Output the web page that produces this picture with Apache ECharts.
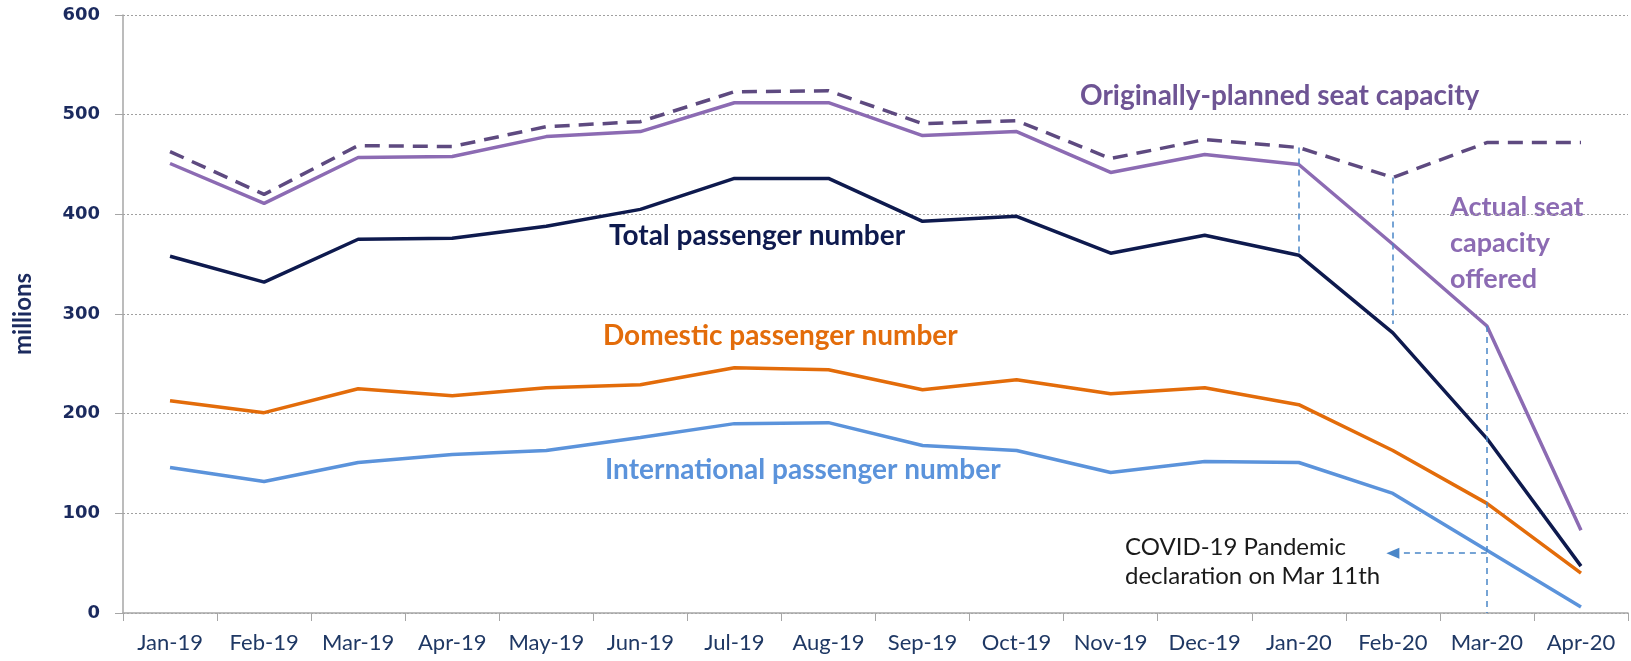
<!DOCTYPE html>
<html>
<head>
<meta charset="utf-8">
<script src="https://cdn.jsdelivr.net/npm/echarts@6/dist/echarts.min.js"></script>
<style>
  html, body { margin: 0; padding: 0; background: #fff; }
  #main { width: 1631px; height: 661px; }
</style>
</head>
<body>
<div id="main"></div>
<script>
const months = ['Jan-19', 'Feb-19', 'Mar-19', 'Apr-19', 'May-19', 'Jun-19', 'Jul-19', 'Aug-19',
  'Sep-19', 'Oct-19', 'Nov-19', 'Dec-19', 'Jan-20', 'Feb-20', 'Mar-20', 'Apr-20'];

// millions
const plannedSeats = [463, 420, 469, 468, 488, 493, 523, 524, 491, 494, 456, 475, 467, 437, 472, 472];
const actualSeats = [451, 411, 457, 458, 478, 483, 512, 512, 479, 483, 442, 460, 450, 370, 288, 83];
const totalPax = [358, 332, 375, 376, 388, 405, 436, 436, 393, 398, 361, 379, 359, 281, 175, 47];
const domesticPax = [213, 201, 225, 218, 226, 229, 246, 244, 224, 234, 220, 226, 209, 163, 110, 40];
const internationalPax = [146, 132, 151, 159, 163, 176, 190, 191, 168, 163, 141, 152, 151, 120, 63, 6];

const yTicks = [0, 100, 200, 300, 400, 500, 600];

const chart = echarts.init(document.getElementById('main'));

const font = 'Lato, "Open Sans", sans-serif';
const navy = '#1B2A5E';
const guide = '#4A86C8';

function line(name, data, color, extra) {
  return Object.assign({
    name: name,
    type: 'line',
    data: data,
    symbol: 'none',
    lineStyle: { color: color, width: 3.5 },
    itemStyle: { color: color },
    z: 3
  }, extra || {});
}

// blue dashed guides + the arrow for the WHO declaration
const guideLines = {
  silent: true,
  symbol: ['none', 'none'],
  label: { show: false },
  lineStyle: { color: guide, width: 1.5, type: [6, 5] },
  data: [
    [{ coord: ['Jan-20', plannedSeats[12]] }, { coord: ['Jan-20', totalPax[12]] }],
    [{ coord: ['Feb-20', plannedSeats[13]] }, { coord: ['Feb-20', 290] }],
    [{ coord: ['Mar-20', actualSeats[14]] }, { coord: ['Mar-20', 0] }],
    [{ coord: ['Mar-20', 60], symbol: 'none' }, { coord: ['Feb-20', 60], symbol: 'triangle', symbolSize: [11, 13] }]
  ]
};

function label(text, left, y, color, size, weight, lh) {
  return {
    type: 'text', left: left, top: y - size / 2,
    style: { text: text, fill: color, font: weight + ' ' + size + 'px ' + font, lineHeight: lh || size }
  };
}

const option = {
  animation: false,
  textStyle: { fontFamily: font },
  grid: { left: 123, right: 3, top: 15, bottom: 48 },
  xAxis: {
    type: 'category',
    data: months,
    boundaryGap: true,
    axisLine: { lineStyle: { color: '#A6A6A6', width: 1.5 } },
    axisTick: { show: true, interval: 0, length: 8, lineStyle: { color: '#A6A6A6' } },
    axisLabel: { interval: 0, color: '#1F3864', fontSize: 22, margin: 19, fontFamily: font }
  },
  yAxis: {
    type: 'value',
    min: yTicks[0],
    max: yTicks[yTicks.length - 1],
    interval: 100,
    name: 'millions',
    nameLocation: 'middle',
    nameGap: 88,
    nameRotate: 90,
    nameTextStyle: { color: navy, fontSize: 24, fontWeight: 'bold', fontFamily: font },
    axisLine: { show: true, lineStyle: { color: '#A6A6A6', width: 1.5 } },
    axisTick: { show: true, length: 8, lineStyle: { color: '#A6A6A6' } },
    axisLabel: { color: navy, fontSize: 18, fontWeight: 'bold', margin: 23, fontFamily: '"DejaVu Sans", sans-serif' },
    splitLine: { lineStyle: { color: '#A0A0A0', type: [2, 2], width: 1 } }
  },
  series: [
    line('International passenger number', internationalPax, '#5B93DB'),
    line('Domestic passenger number', domesticPax, '#E36C0A'),
    line('Total passenger number', totalPax, '#0E1A4E', { markLine: guideLines }),
    line('Actual seat capacity offered', actualSeats, '#8C6BB3'),
    line('Originally-planned seat capacity', plannedSeats, '#5E4A80', {
      lineStyle: { color: '#5E4A80', width: 3.5, type: [15, 9] }
    })
  ],
  graphic: [
    label('Originally-planned seat capacity', 1080, 96, '#6E5494', 28, 'bold'),
    label('Actual seat\ncapacity\noffered', 1450, 203, '#8C6BB3', 27, 'bold', 36),
    label('Total passenger number', 609, 236, '#0E1A4E', 28, 'bold'),
    label('Domestic passenger number', 603, 336, '#E36C0A', 28, 'bold'),
    label('International passenger number', 605, 470, '#5B93DB', 28, 'bold'),
    label('COVID-19 Pandemic\ndeclaration on Mar 11th', 1125, 545, '#1A1A1A', 24, 'normal', 29)
  ]
};

chart.setOption(option);
</script>
</body>
</html>
